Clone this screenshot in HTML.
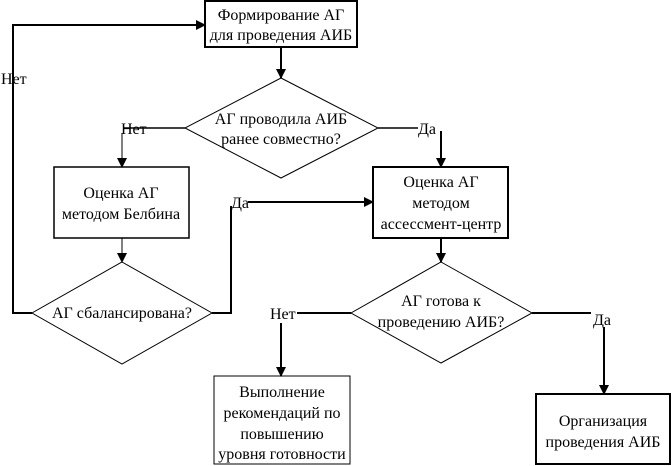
<!DOCTYPE html>
<html><head><meta charset="utf-8"><style>
html,body{margin:0;padding:0;background:#fff;}
svg{display:block;}
text{font-family:"Liberation Serif",serif;font-size:16px;fill:#000;}
</style></head><body>
<svg width="672" height="466" viewBox="0 0 672 466" xmlns="http://www.w3.org/2000/svg">
<defs>
<marker id="a" markerWidth="10" markerHeight="10" refX="9" refY="5" orient="auto" markerUnits="userSpaceOnUse">
<path d="M0,0 L10,5 L0,10 Z" fill="#000"/></marker>
</defs>
<g fill="#fff" stroke="#000">
<rect x="205" y="1" width="152" height="46" stroke-width="2"/>
<polygon points="281,78 378,128 281,178 185,128" stroke-width="1"/>
<rect x="54" y="167" width="135" height="71" stroke-width="1.5"/>
<rect x="373" y="167" width="135" height="71" stroke-width="2"/>
<polygon points="122,262 212,313 122,364 32,313" stroke-width="1"/>
<polygon points="441,262 532,313 441,363 351,313" stroke-width="1"/>
<rect x="214" y="376" width="136" height="88" stroke-width="1"/>
<rect x="536" y="394" width="134" height="70" stroke-width="2"/>
</g>
<g fill="none" stroke="#000" stroke-width="2">
<line x1="281" y1="47" x2="281" y2="78" marker-end="url(#a)"/>
<polyline points="185,128 124,128" stroke-width="1.5"/>
<line x1="122" y1="133" x2="122" y2="167" stroke-width="1" marker-end="url(#a)"/>
<polyline points="378,128 418,128" stroke-width="1.5"/>
<line x1="441" y1="131" x2="441" y2="167" marker-end="url(#a)"/>
<line x1="122" y1="238" x2="122" y2="262" stroke-width="1" marker-end="url(#a)"/>
<line x1="441" y1="238" x2="441" y2="262" marker-end="url(#a)"/>
<polyline points="32,313 13,313 13,25 205,25" marker-end="url(#a)"/>
<polyline points="212,313 231,313 231,206"/>
<line x1="248" y1="202" x2="373" y2="202" marker-end="url(#a)"/>
<polyline points="351,313 297,313"/>
<line x1="281" y1="323" x2="281" y2="376" marker-end="url(#a)"/>
<polyline points="532,313 591,313"/>
<line x1="604" y1="327" x2="604" y2="394" marker-end="url(#a)"/>
</g>
<g text-anchor="middle">
<text x="281" y="20">Формирование АГ</text>
<text x="281" y="40">для проведения АИБ</text>
<text x="281" y="124">АГ проводила АИБ</text>
<text x="281" y="144">ранее совместно?</text>
<text x="121" y="198">Оценка АГ</text>
<text x="121" y="219">методом Белбина</text>
<text x="441" y="187">Оценка АГ</text>
<text x="441" y="208">методом</text>
<text x="441" y="229">ассессмент-центр</text>
<text x="122" y="318">АГ сбалансирована?</text>
<text x="441" y="306">АГ готова к</text>
<text x="441" y="327">проведению АИБ?</text>
<text x="282" y="397">Выполнение</text>
<text x="282" y="418">рекомендаций по</text>
<text x="282" y="439">повышению</text>
<text x="282" y="459">уровня готовности</text>
<text x="603" y="426">Организация</text>
<text x="603" y="447">проведения АИБ</text>
</g>
<text x="1" y="84">Нет</text>
<text x="121" y="134">Нет</text>
<text x="418" y="134">Да</text>
<text x="231" y="208">Да</text>
<text x="270" y="319">Нет</text>
<text x="593" y="325">Да</text>
</svg>
</body></html>
